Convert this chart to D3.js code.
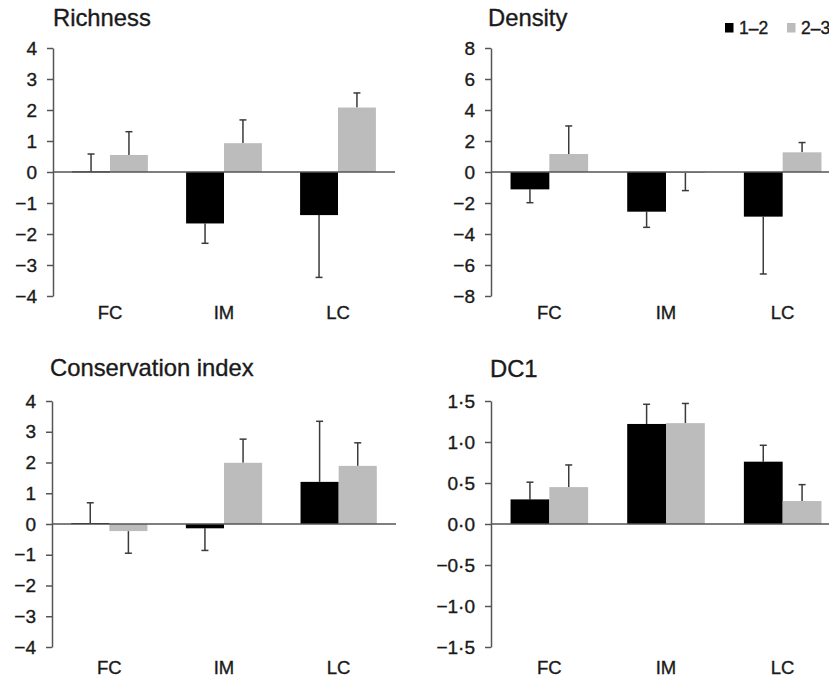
<!DOCTYPE html>
<html>
<head>
<meta charset="utf-8">
<script src="https://cdn.jsdelivr.net/npm/d3@7"></script>
<style>
  body { margin: 0; background: #fff; }
  svg { display: block; font-family: "Liberation Sans", Arial, Helvetica, sans-serif; }
  text { stroke-width: 0.35px; }
</style>
</head>
<body>
<svg width="829" height="678"></svg>
<script>
var groups = ["FC", "IM", "LC"];
var periods = ["1–2", "2–3"];

// means and one-sided error (SE) per period
var richness12 = [0.02, -1.66, -1.39];
var richness12Err = [0.56, 0.64, 2.01];
var richness23 = [0.55, 0.93, 2.08];
var richness23Err = [0.75, 0.75, 0.47];

var density12 = [-1.12, -2.56, -2.88];
var density12Err = [0.86, 1.01, 3.7];
var density23 = [1.16, -0.05, 1.27];
var density23Err = [1.81, 1.15, 0.63];

var conservation12 = [0.03, -0.14, 1.37];
var conservation12Err = [0.66, 0.72, 1.97];
var conservation23 = [-0.23, 1.99, 1.89];
var conservation23Err = [0.72, 0.77, 0.75];

var dc1_12 = [0.30, 1.22, 0.76];
var dc1_12Err = [0.21, 0.24, 0.20];
var dc1_23 = [0.45, 1.23, 0.28];
var dc1_23Err = [0.27, 0.24, 0.20];

var richnessTicks = [4, 3, 2, 1, 0, -1, -2, -3, -4];
var densityTicks = [8, 6, 4, 2, 0, -2, -4, -6, -8];
var conservationTicks = [4, 3, 2, 1, 0, -1, -2, -3, -4];
var dc1Ticks = [1.5, 1.0, 0.5, 0, -0.5, -1.0, -1.5];

var colors = ["#000000", "#bcbcbc"];
var axisColor = "#555";
var errColor = "#3a3a3a";
var textColor = "#1a1a1a";

var svg = d3.select("svg");

var panels = [
  { title: "Richness", a: richness12, ae: richness12Err, b: richness23, be: richness23Err,
    ticks: richnessTicks, fmt: d3.format("d"),
    x0: 53, x1: 395, yTop: 48, yBot: 296, titleX: 53, titleY: 26, labelY: 319 },
  { title: "Density", a: density12, ae: density12Err, b: density23, be: density23Err,
    ticks: densityTicks, fmt: d3.format("d"),
    x0: 491, x1: 841, yTop: 48, yBot: 296, titleX: 488, titleY: 26, labelY: 319 },
  { title: "Conservation index", a: conservation12, ae: conservation12Err, b: conservation23, be: conservation23Err,
    ticks: conservationTicks, fmt: d3.format("d"),
    x0: 52, x1: 396, yTop: 401, yBot: 647, titleX: 50, titleY: 376, labelY: 674 },
  { title: "DC1", a: dc1_12, ae: dc1_12Err, b: dc1_23, be: dc1_23Err,
    ticks: dc1Ticks, fmt: function(d) { return d3.format(".1f")(d).replace(".", "·"); },
    x0: 491, x1: 841, yTop: 401, yBot: 647, titleX: 490, titleY: 377, labelY: 674 }
];

panels.forEach(function(p) {
  var g = svg.append("g");
  var y = d3.scaleLinear().domain(d3.extent(p.ticks)).range([p.yBot, p.yTop]);
  var x = d3.scaleBand().domain(groups).range([p.x0, p.x1]);
  var inner = d3.scaleBand().domain(periods)
    .range([x.bandwidth() * 0.1675, x.bandwidth() * 0.8325]);

  // y axis
  var yAxis = g.append("g")
    .attr("transform", "translate(" + p.x0 + ",0)")
    .call(d3.axisLeft(y).tickValues(p.ticks).tickFormat(p.fmt).tickSize(6).tickPadding(10).tickSizeOuter(0));
  yAxis.select(".domain").attr("stroke", axisColor).attr("stroke-width", 1.5);
  yAxis.selectAll(".tick line").attr("stroke", axisColor).attr("stroke-width", 1.5);
  yAxis.selectAll(".tick text").attr("fill", textColor).attr("stroke", textColor).style("font-size", "19px");

  var rows = [];
  groups.forEach(function(grp, i) {
    rows.push({ g: grp, s: periods[0], v: p.a[i], e: p.ae[i], c: colors[0] });
    rows.push({ g: grp, s: periods[1], v: p.b[i], e: p.be[i], c: colors[1] });
  });
  function cx(d) { return x(d.g) + inner(d.s) + inner.bandwidth() / 2; }
  function tip(d) { return y(d.v >= 0 ? d.v + d.e : d.v - d.e); }

  // error bars (one-sided, away from zero)
  var err = g.selectAll(".err").data(rows).enter().append("g");
  err.append("line")
    .attr("x1", cx).attr("x2", cx)
    .attr("y1", function(d) { return y(d.v); })
    .attr("y2", tip)
    .attr("stroke", errColor).attr("stroke-width", 1.5);
  err.append("line")
    .attr("x1", function(d) { return cx(d) - 3.5; })
    .attr("x2", function(d) { return cx(d) + 3.5; })
    .attr("y1", tip).attr("y2", tip)
    .attr("stroke", errColor).attr("stroke-width", 1.5);

  // bars
  g.selectAll(".bar").data(rows).enter().append("rect")
    .attr("x", function(d) { return x(d.g) + inner(d.s); })
    .attr("width", inner.bandwidth())
    .attr("y", function(d) { return y(Math.max(0, d.v)); })
    .attr("height", function(d) { return Math.max(1, Math.abs(y(d.v) - y(0))); })
    .attr("fill", function(d) { return d.c; });

  // zero line
  g.append("line")
    .attr("x1", p.x0).attr("x2", p.x1)
    .attr("y1", y(0)).attr("y2", y(0))
    .attr("stroke", axisColor).attr("stroke-width", 1.5);

  // category labels
  g.selectAll(".cat").data(groups).enter().append("text")
    .attr("x", function(d) { return x(d) + x.bandwidth() / 2; })
    .attr("y", p.labelY)
    .attr("text-anchor", "middle")
    .attr("fill", textColor).attr("stroke", textColor)
    .style("font-size", "18.5px")
    .text(function(d) { return d; });

  // title
  g.append("text")
    .attr("x", p.titleX).attr("y", p.titleY)
    .attr("fill", textColor).attr("stroke", textColor)
    .style("font-size", "23.8px")
    .text(p.title);
});

// legend
var legend = svg.append("g").attr("transform", "translate(725,23)");
var li = legend.selectAll("g").data(periods).enter().append("g")
  .attr("transform", function(d, i) { return "translate(" + (i * 62) + ",0)"; });
li.append("rect").attr("width", 8.5).attr("height", 9.5)
  .attr("fill", function(d, i) { return colors[i]; });
li.append("text").attr("x", 14).attr("y", 11)
  .attr("fill", textColor).attr("stroke", textColor)
  .style("font-size", "17.5px")
  .text(function(d) { return d; });
</script>
</body>
</html>
